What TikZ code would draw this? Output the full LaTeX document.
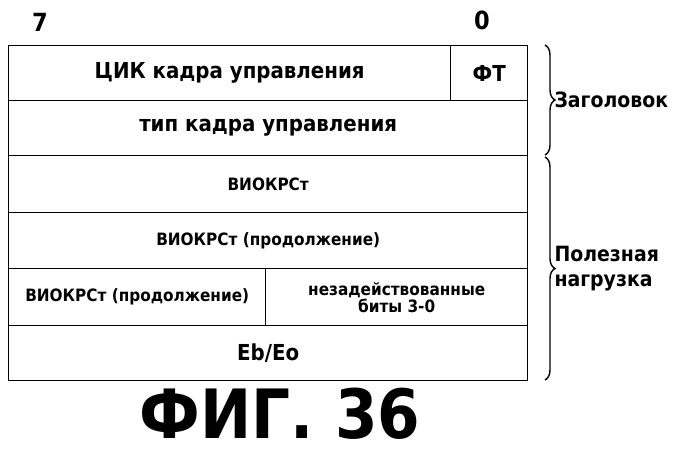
\documentclass[tikz,border=0pt]{standalone}
\usepackage{fontspec}
\setmainfont{DejaVu Sans Condensed Bold}
\usetikzlibrary{positioning,decorations.pathreplacing}

\begin{document}
\begin{tikzpicture}[x=1pt,y=-1pt]
	\tikzstyle{cell}=[draw,line width=1.4pt,inner sep=0pt,align=center,anchor=north west]
	\tikzstyle{big}=[font=\fontsize{22}{24}\selectfont]
	\tikzstyle{small}=[font=\fontsize{17}{17}\selectfont]
	\tikzstyle{side}=[font=\fontsize{21}{25}\selectfont]
	\tikzstyle{brace}=[decorate,decoration={brace,amplitude=10pt},line width=1.4pt]
	\useasboundingbox (0,0) rectangle (699,456);

	\node[font=\fontsize{25}{27}\selectfont] (hi) at (40,22) {7};
	\node[font=\fontsize{25}{27}\selectfont] (lo) at (482,20) {0};

	\node[cell,big,minimum width=442pt,minimum height=55pt] (cik) at (8,45) {ЦИК кадра управления};
	\node[cell,big,minimum width=77pt,minimum height=55pt] (ft) at (450,45) {ФТ};
	\node[cell,big,minimum width=519pt,minimum height=55pt] (typ) at (8,100) {тип кадра управления};
	\node[cell,small,minimum width=519pt,minimum height=57pt] (vio1) at (8,155) {ВИОКРСт};
	\node[cell,small,minimum width=519pt,minimum height=56pt] (vio2) at (8,212) {ВИОКРСт (продолжение)};
	\node[cell,small,minimum width=257pt,minimum height=57pt] (vio3) at (8,268) {ВИОКРСт (продолжение)};
	\node[cell,small,minimum width=262pt,minimum height=57pt] (bits) at (265,268) {незадействованные\\биты 3-0};
	\node[cell,big,minimum width=519pt,minimum height=55pt] (ebo) at (8,325) {Eb/Eo};

	\draw[brace] (545,45) -- (545,155) coordinate[midway] (hb);
	\draw[brace] (545,157) -- (545,380) coordinate[midway] (pb);
	\node[side,anchor=west,right=6pt of hb] (hdr) {Заголовок};
	\node[side,anchor=west,right=6pt of pb,align=left] (pay) {Полезная\\нагрузка};

	\node[font=\fontsize{68}{70}\selectfont] (fig) at (280,414) {ФИГ. 36};
\end{tikzpicture}
\end{document}
